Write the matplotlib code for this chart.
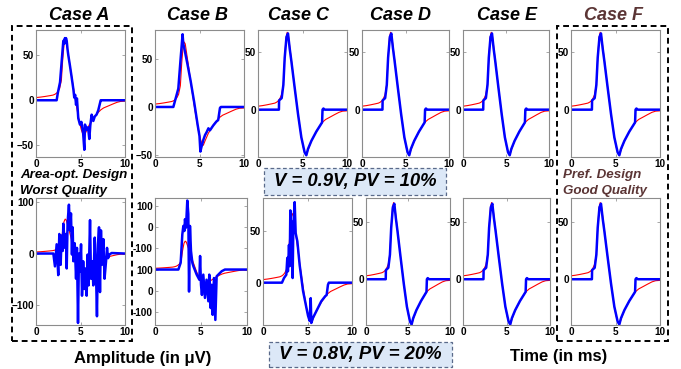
import matplotlib
matplotlib.use("Agg")
import matplotlib.pyplot as plt
from matplotlib.patches import Rectangle

plt.rcParams['font.family'] = ['Liberation Sans', 'DejaVu Sans']

W, H = 681, 369

# reference (ideal) signal, red
t_ref = [0, 0.5, 1.0, 1.5, 1.9, 2.1, 2.3, 2.45, 2.65, 2.85, 3.0, 3.15, 3.28, 3.4, 3.56, 3.75,
         4.12, 4.5, 4.87, 5.1, 5.25, 5.43, 5.62, 6.0, 6.55, 7.04, 7.3, 7.6, 8.2, 8.6, 9.1,
         9.5, 10]
a_ref = [3, 3.5, 4.2, 5, 5.7, 6.5, 7.8, 9.5, 13, 22, 45, 62, 67, 65, 55, 43,
         19, -4, -24, -33, -37, -39.5, -35, -27, -19, -13, -10.5, -8.5, -6, -4.3, -2.3,
         -1.3, -1]

# good-quality output, blue (cases C-F)
t_clean = [0, 2.35, 2.37, 2.66, 2.85, 3.0, 3.2, 3.37, 3.56, 3.75, 4.12, 4.5, 4.87, 5.24,
           5.43, 5.62, 6.0, 6.55, 7.04, 7.2, 7.25, 7.35, 7.5, 10]
a_clean = [0, 0, 8, 10, 21.5, 45, 63, 66, 53, 42, 19, -4, -24, -37,
           -39.5, -34, -27, -19, -13, -11, 0, 1, 0, 0]

# case A, V=0.9V
t_a1 = [0, 2.32, 2.45, 2.7, 2.9, 3.07, 3.2, 3.25, 3.3, 3.37, 3.45, 3.55, 3.63, 3.82, 4.0,
        4.2, 4.3, 4.4, 4.5, 4.6, 4.75, 4.94, 5.1, 5.3, 5.43, 5.5, 5.7, 5.85, 5.99, 6.1,
        6.25, 6.44, 6.6, 6.8, 7.0, 7.27, 7.4, 10]
a_a1 = [0, 0, 8, 20, 45, 66, 63, 69, 65, 69, 66, 56, 50, 38, 26,
        12, 3, 6, -5, 2, -20, -27, -24, -37, -55, -27, -33, -30, -43, -28,
        -16, -23, -18, -16, -11, 0, 0, 0]

# case B, V=0.9V
t_b1 = [0, 2.06, 2.43, 2.62, 2.88, 3.1, 3.18, 3.26, 3.63, 4.0, 4.4, 4.8, 5.0, 5.1, 5.2,
        5.43, 5.62, 5.8, 6.0, 6.18, 6.55, 6.9, 7.1, 7.3, 7.4, 10]
a_b1 = [0, 0, 12.5, 19, 50, 75, 65, 62, 45, 27, 5, -19, -30, -46, -42,
        -34, -29, -26, -22, -24, -19, -15, -13.5, -1, 0, 0]

# case A, V=0.8V
t_a2 = [0, 1.95, 2.13, 2.32, 2.5, 2.62, 2.77, 2.88, 3.0, 3.07, 3.26, 3.37, 3.45, 3.55, 3.7,
        3.82, 3.93, 4.04, 4.12, 4.2, 4.35, 4.5, 4.6, 4.72, 4.83, 4.94, 5.06, 5.17, 5.3,
        5.43, 5.54, 5.69, 5.8, 5.9, 6.07, 6.18, 6.3, 6.44, 6.6, 6.74, 6.85, 6.97, 7.08,
        7.19, 7.3, 7.4, 7.57, 7.7, 7.87, 7.98, 8.1, 8.24, 8.5, 10]
a_a2 = [0, 0, -25, 18, -42, 38, -22, 35, 5, 58, 11, 38, -29, 60, 95,
        45, 78, -2, 51, -15, 20, -49, 11, -135, 0, -35, 18, -82, -15,
        -69, -29, -82, -2, -62, 65, -49, -15, -62, 31, -35, -122, 18, 51,
        -75, 45, -22, 28, -49, -15, 11, -9, -2, 1, 0]

# case B, V=0.8V
t_b2 = [0, 2.54, 2.79, 2.97, 3.08, 3.19, 3.26, 3.37, 3.51, 3.62, 3.7, 3.8, 3.91, 4.06, 4.17,
        4.53, 4.82, 4.9, 5.0, 5.1, 5.25, 5.43, 5.6, 5.8, 5.9, 6.05, 6.16, 6.27, 6.41, 6.56,
        6.7, 6.88, 7.25, 7.6, 10]
a_b2 = [0, 0, 16, 83, 103, 91, 119, 99, 163, 131, -52, 103, 44, 16, 8,
        -12, -24, 32, -36, -60, -12, -67, -24, -75, -12, -91, -36, -107, -20, -119,
        -16, -12, -4, 0, 0]

# case C, V=0.8V
t_c2 = [0, 2.13, 2.36, 2.62, 2.73, 2.8, 2.92, 3.0, 3.07, 3.18, 3.26, 3.33, 3.41, 3.56, 3.67,
        3.86, 4.12, 4.5, 4.87, 5.06, 5.24, 5.36, 5.43, 5.62, 6.0, 6.55, 7.0, 7.15, 7.3,
        7.4, 10]
a_c2 = [0, 0, 4.5, 7.7, 24, 11, 36.5, 16, 70, 43, 59, 4.5, 56, 78, 48,
        40, 17, -8, -24, -32, -37, -15, -39, -34, -27.5, -18, -13, -12, -2,
        0, 0]

titles = ['Case A', 'Case B', 'Case C', 'Case D', 'Case E', 'Case F']
title_x = [79, 197, 298, 400, 507, 613]
brown = '#5b3535'

fig = plt.figure(figsize=(W / 100, H / 100), dpi=100)


def px_axes(l, t, r, b):
    return fig.add_axes([l / W, 1 - b / H, (r - l) / W, (b - t) / H])


def style(ax, ylim, yticks, ylabels=None):
    ax.set_xlim(0, 10)
    ax.set_ylim(*ylim)
    ax.set_xticks([0, 5, 10])
    ax.set_yticks(yticks)
    if ylabels is not None:
        ax.set_yticklabels(ylabels)
    ax.tick_params(direction='in', length=2, width=0.6, color='#999999', labelsize=7.2,
                   pad=1.5, top=True, right=True)
    for lab in ax.get_xticklabels() + ax.get_yticklabels():
        lab.set_fontweight('bold')
    for s in ax.spines.values():
        s.set_color('#8c8c8c')
        s.set_linewidth(0.8)


def draw(ax, t, a):
    ax.plot(t_ref, a_ref, color='red', lw=0.8)
    ax.plot(t, a, color='blue', lw=1.8)


# top row (V = 0.9V)
top = [(36, 125), (155, 244), (258, 347), (362, 449), (463, 549), (571, 660)]
top_data = [(t_a1, a_a1), (t_b1, a_b1)] + [(t_clean, a_clean)] * 4
top_ylim = [(-63, 78), (-51.6, 79.4)] + [(-41, 69)] * 4
top_ticks = [[-50, 0, 50], [-50, 0, 50]] + [[0, 50]] * 4
for (l, r), (t, a), yl, yt in zip(top, top_data, top_ylim, top_ticks):
    ax = px_axes(l, 30, r, 157)
    draw(ax, t, a)
    style(ax, yl, yt)

# bottom row (V = 0.8V)
bot = [(36, 125), (155, 247), (263, 352), (366, 450), (463, 550), (571, 660)]
bot_data = [(t_a2, a_a2), (t_b2, a_b2), (t_c2, a_c2)] + [(t_clean, a_clean)] * 3
bot_ylim = [(-139, 108), (-131, 169), (-41, 82)] + [(-40, 71)] * 3
bot_ticks = [[-100, 0, 100], [-100, -50, 0, 50, 100, 150], [0, 50]] + [[0, 50]] * 3
bot_labels = [None, ['-100', '0', '100', '-100', '0', '100'], None, None, None, None]
for (l, r), (t, a), yl, yt, lb in zip(bot, bot_data, bot_ylim, bot_ticks, bot_labels):
    ax = px_axes(l, 198, r, 325)
    draw(ax, t, a)
    style(ax, yl, yt, lb)

for name, x in zip(titles, title_x):
    fig.text(x / W, 1 - 15 / H, name, ha='center', va='center', fontsize=13,
             fontweight='bold', fontstyle='italic', color=brown if name == 'Case F' else 'black')

# dashed frames around the extreme designs
for l, r in [(12, 132), (557, 668)]:
    fig.patches.append(Rectangle((l / W, 1 - 341 / H), (r - l) / W, 315 / H,
                                 transform=fig.transFigure, fill=False, ec='black',
                                 lw=1.4, ls=(0, (3, 2))))

fig.text(20 / W, 1 - 175 / H, 'Area-opt. Design', fontsize=9.6, fontweight='bold',
         fontstyle='italic', va='center')
fig.text(20 / W, 1 - 191 / H, 'Worst Quality', fontsize=9.6, fontweight='bold',
         fontstyle='italic', va='center')
fig.text(563 / W, 1 - 175 / H, 'Pref. Design', fontsize=9.6, fontweight='bold',
         fontstyle='italic', va='center', color=brown)
fig.text(563 / W, 1 - 191 / H, 'Good Quality', fontsize=9.6, fontweight='bold',
         fontstyle='italic', va='center', color=brown)

# voltage / process variation boxes
for (l, t, r, b), txt in [((264, 168, 446, 195), 'V = 0.9V, PV = 10%'),
                          ((269, 342, 452, 367), 'V = 0.8V, PV = 20%')]:
    fig.patches.append(Rectangle((l / W, 1 - b / H), (r - l) / W, (b - t) / H,
                                 transform=fig.transFigure, fc='#dce8f7', ec='#5a6a8a',
                                 lw=0.9, ls=(0, (3, 2))))
    fig.text((l + r) / 2 / W, 1 - (t + b) / 2 / H, txt, ha='center', va='center',
             fontsize=13.3, fontweight='bold', fontstyle='italic')

fig.text(143 / W, 1 - 358 / H, 'Amplitude (in \u03bcV)', ha='center', va='center',
         fontsize=12, fontweight='bold')
fig.text(559 / W, 1 - 357 / H, 'Time (in ms)', ha='center', va='center',
         fontsize=12, fontweight='bold')

fig.savefig('out.png', dpi=100)
